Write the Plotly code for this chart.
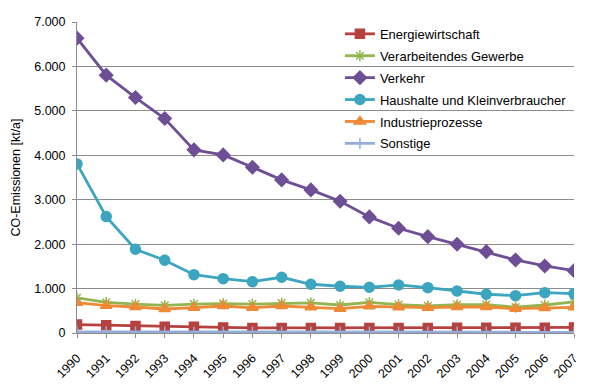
import plotly.graph_objects as go

years = [str(y) for y in range(1990, 2008)]

energiewirtschaft = [190, 175, 155, 140, 140, 125, 115, 115, 110, 110, 115, 115, 115, 120, 120, 120, 120, 125]
verarbeitendes = [790, 690, 650, 620, 650, 660, 650, 670, 680, 630, 690, 640, 610, 640, 640, 580, 630, 700]
verkehr = [6637, 5803, 5300, 4827, 4122, 4009, 3732, 3446, 3221, 2966, 2613, 2358, 2169, 1997, 1831, 1644, 1509, 1403]
haushalte = [3806, 2620, 1885, 1637, 1313, 1223, 1155, 1254, 1097, 1052, 1029, 1081, 1020, 946, 872, 840, 908, 885]
industrie = [682, 615, 585, 540, 570, 608, 567, 608, 578, 548, 600, 578, 570, 585, 585, 548, 563, 578]
sonstige = [25, 25, 22, 22, 22, 20, 20, 20, 20, 20, 20, 20, 20, 20, 20, 20, 20, 20]

series = [
    ("Energiewirtschaft", energiewirtschaft, "#B5423F", "square", 9),
    ("Verarbeitendes Gewerbe", verarbeitendes, "#92B550", "asterisk-open", 9),
    ("Verkehr", verkehr, "#6E4F96", "diamond", 10),
    ("Haushalte und Kleinverbraucher", haushalte, "#3CA5BF", "circle", 10),
    ("Industrieprozesse", industrie, "#EE8A35", "triangle-up", 10),
    ("Sonstige", sonstige, "#93ADD8", "cross-thin-open", 8),
]

fig = go.Figure()
for name, vals, color, sym, size in series:
    fig.add_trace(go.Scatter(
        x=years, y=vals, name=name, mode="lines+markers",
        legendgroup=name,
        line=dict(color=color, width=2.8),
        marker=dict(symbol=sym, size=size, color=color,
                    line=dict(color=color, width=1.5)),
    ))

fig.update_layout(
    width=600, height=384,
    margin=dict(l=77, r=26, t=22, b=51),
    paper_bgcolor="white", plot_bgcolor="white",
    separators=",.",
    font=dict(family="Liberation Sans, Arial, sans-serif", size=12.5, color="#000000"),
    showlegend=True,
    legend=dict(x=0.529, y=1.01, xanchor="left", yanchor="top",
                bgcolor="rgba(0,0,0,0)", font=dict(size=13),
                itemwidth=30, tracegroupgap=2),
    xaxis=dict(
        type="category", range=[0, 17], automargin=False,
        showgrid=False, showline=True, linecolor="#8c8c8c", linewidth=1,
        ticks="outside", ticklen=4, tickcolor="#8c8c8c",
        tickangle=-45, tickfont=dict(size=12.5), ticklabelstandoff=8,
    ),
    yaxis=dict(
        range=[0, 7000], dtick=1000, tickformat=",d", automargin=False,
        showgrid=True, gridcolor="#8c8c8c", gridwidth=1,
        showline=True, linecolor="#8c8c8c", linewidth=1,
        ticks="outside", ticklen=4, tickcolor="#8c8c8c",
        zeroline=False, tickfont=dict(size=12.5), ticklabelstandoff=4,
        title=dict(text="CO-Emissionen [kt/a]", font=dict(size=12.5), standoff=10),
    ),
)

fig.write_html("out.html", config={"displayModeBar": False},
               post_script="document.body.style.margin='0';")
